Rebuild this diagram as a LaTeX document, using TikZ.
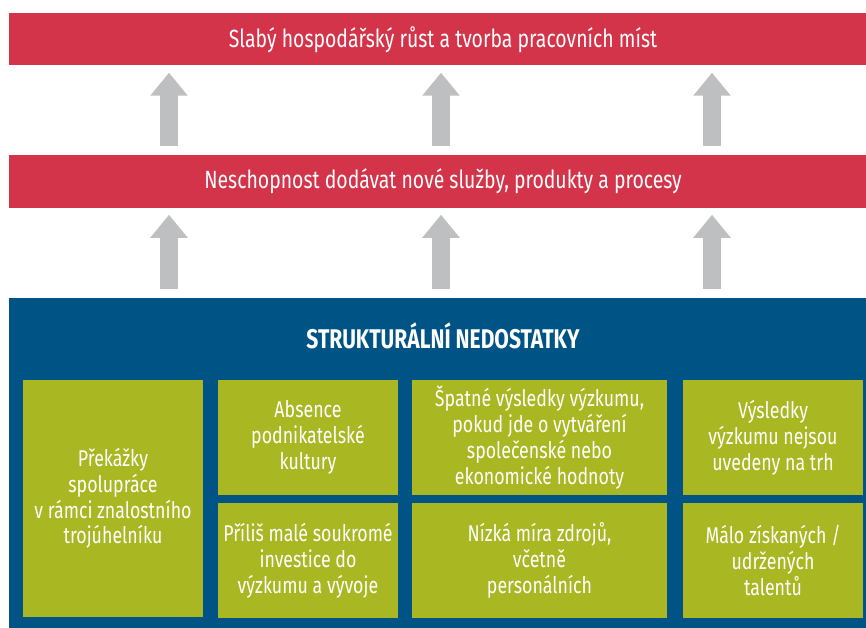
\documentclass[tikz,border=0pt]{standalone}
\usepackage{fontspec}
\setmainfont{Fira Sans}[FakeStretch=0.78]
\usepackage{tikz}
\usetikzlibrary{arrows.meta}
\definecolor{barred}{HTML}{D3344A}
\definecolor{basisblue}{HTML}{005385}
\definecolor{cellgreen}{HTML}{A9B723}
\definecolor{arrowgray}{HTML}{BEBFC1}

\begin{document}
\begin{tikzpicture}[x=1pt,y=-1pt,
  bar/.style={fill=barred, text=white, minimum width=868pt, minimum height=52.5pt,
    inner sep=0pt, font=\fontsize{24.9}{28}\selectfont},
  cell/.style={fill=cellgreen, text=white, align=center, inner sep=0pt,
    minimum width=180pt, minimum height=115pt, font=\fontsize{22.8}{25.8}\selectfont},
  widecell/.style={cell, minimum width=255pt},
  tallcell/.style={cell, minimum height=237pt},
  uparrow/.style={draw=arrowgray, line width=18pt,
    -{Triangle[width=36pt,length=23pt]}, shorten <=9pt, shorten >=7pt}]
  \useasboundingbox (0,0) rectangle (866,628);
  % top bars
  \node [bar] (growth) at (443, 39.25) {Slabý hospodářský růst a tvorba pracovních míst};
  \node [bar] (supply) at (443, 181.3) {Neschopnost dodávat nové služby, produkty a procesy};
  % structural weaknesses
  \node [fill=basisblue, minimum width=868pt, minimum height=330pt, inner sep=0pt] (basis) at (443, 463) {};
  \node [text=white, font=\bfseries\fontsize{27}{30}\selectfont] (title) at (443, 336) {STRUKTURÁLNÍ NEDOSTATKY};
  \node [tallcell] (AA) at (113, 498.5) {Překážky\\spolupráce\\v rámci znalostního\\trojúhelníku};
  \node [cell] (AB) at (308, 437.5) {Absence\\podnikatelské\\kultury};
  \node [cell] (BB) at (308, 560.5) {Příliš malé soukromé\\investice do\\výzkumu a vývoje};
  \node [widecell] (AC) at (539.5, 437.5) {Špatné výsledky výzkumu,\\pokud jde o vytváření\\společenské nebo\\ekonomické hodnoty};
  \node [widecell] (BC) at (539.5, 560.5) {Nízká míra zdrojů,\\včetně\\personálních};
  \node [cell] (AD) at (773, 437.5) {Výsledky\\výzkumu nejsou\\uvedeny na trh};
  \node [cell] (BD) at (773, 560.5) {Málo získaných /\\udržených\\talentů};
  % arrows
  \draw [uparrow] (supply.north -| 169,0) -- (growth.south -| 169,0);
  \draw [uparrow] (supply.north -| 441,0) -- (growth.south -| 441,0);
  \draw [uparrow] (supply.north -| 712,0) -- (growth.south -| 712,0);
  \draw [uparrow] (basis.north -| 169,0) -- (supply.south -| 169,0);
  \draw [uparrow] (basis.north -| 441,0) -- (supply.south -| 441,0);
  \draw [uparrow] (basis.north -| 712,0) -- (supply.south -| 712,0);
\end{tikzpicture}
\end{document}
